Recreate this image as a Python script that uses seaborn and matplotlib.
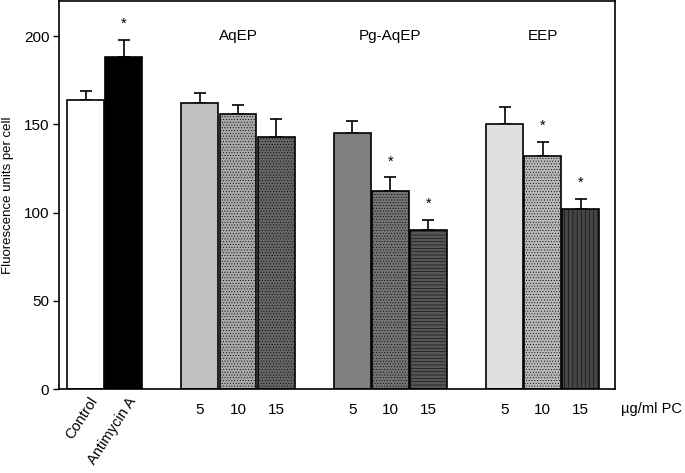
import numpy as np
import pandas as pd
import matplotlib
matplotlib.use("Agg")
import matplotlib.pyplot as plt
import matplotlib.transforms as mtransforms
import seaborn as sns

# ---- data ----
bar_labels = ["Control", "Antimycin A", "AqEP 5", "AqEP 10", "AqEP 15",
              "Pg-AqEP 5", "Pg-AqEP 10", "Pg-AqEP 15", "EEP 5", "EEP 10", "EEP 15"]
positions = [0, 1, 3, 4, 5, 7, 8, 9, 11, 12, 13]
means = [164, 188, 162, 156, 143, 145, 112, 90, 150, 132, 102]
errors = [5, 10, 6, 5, 10, 7, 8, 6, 10, 8, 6]
tick_labels = ["Control", "Antimycin A", "5", "10", "15", "5", "10", "15", "5", "10", "15"]
significant = [False, True, False, False, False, False, True, True, False, True, True]
group_names = ["AqEP", "Pg-AqEP", "EEP"]
group_centers = [4, 8, 12]

# ---- styles ----
colors = ["#ffffff", "#000000", "#c0c0c0", "#a8a8a8", "#666666",
          "#808080", "#747474", "#555555", "#e0e0e0", "#b8b8b8", "#454545"]
hatches = [None, None, None, "......", "......", None, "......", "-----", None, "......", "||||"]

sns.set_theme(style="white")
plt.rcParams["font.family"] = ["Liberation Sans", "DejaVu Sans"]
plt.rcParams["hatch.linewidth"] = 0.35

df = pd.DataFrame({"pos": positions, "mean": means, "label": bar_labels})

fig = plt.figure(figsize=(6.85, 4.73), dpi=100)
ax = fig.add_axes([59 / 685, 1 - 389 / 473, (615 - 59) / 685, 388 / 473])

sns.barplot(data=df, x="pos", y="mean", hue="label", hue_order=bar_labels,
            palette=dict(zip(bar_labels, colors)), native_scale=True, dodge=False,
            width=0.97, legend=False, edgecolor="black", linewidth=1.2, ax=ax,
            errorbar=None)

for cont, h in zip(ax.containers, hatches):
    for p in cont.patches:
        p.set_zorder(2)
        if h:
            p.set_hatch(h)

ax.errorbar(positions, means, yerr=[np.zeros(len(errors)), errors], fmt="none",
            ecolor="black", elinewidth=1.2, capsize=4.3, capthick=1.2, zorder=1)

for x, m, e, s in zip(positions, means, errors, significant):
    if s:
        ax.text(x, m + e + 9, "*", ha="center", va="center", fontsize=10.5, color="black")

for name, c in zip(group_names, group_centers):
    ax.text(c, 200, name, ha="center", va="center", fontsize=11, color="black")

ax.set_xlim(-0.7, 13.9)
ax.set_ylim(0, 220)
ax.set_yticks([0, 50, 100, 150, 200])
ax.set_xticks(positions)
ax.set_xticklabels(tick_labels)
ax.tick_params(axis="x", length=0, pad=10, labelsize=11, colors="black")
ax.tick_params(axis="y", left=True, length=4, width=1, pad=3, labelsize=11, colors="black")
for i, lab in enumerate(ax.get_xticklabels()[:2]):
    lab.set_rotation(57)
    lab.set_ha("right")
    lab.set_va("top")
    lab.set_rotation_mode("anchor")
    lab.set_fontsize(10.5)
    lab.set_transform(lab.get_transform() + mtransforms.ScaledTranslation(2.5 / 72, 6 / 72, fig.dpi_scale_trans))

ax.set_xlabel("")
ax.set_ylabel("Fluorescence units per cell", fontsize=9.5, color="black", labelpad=7)

for sp in ax.spines.values():
    sp.set_visible(True)
    sp.set_color("black")
    sp.set_linewidth(1.2)

ax.annotate("µg/ml PC", xy=(14.05, 0), xycoords=("data", "axes fraction"),
            xytext=(0, -20 / 1.389), textcoords="offset points", ha="left", va="center",
            fontsize=10.5, color="black", annotation_clip=False)

fig.savefig("out.png", dpi=100)
